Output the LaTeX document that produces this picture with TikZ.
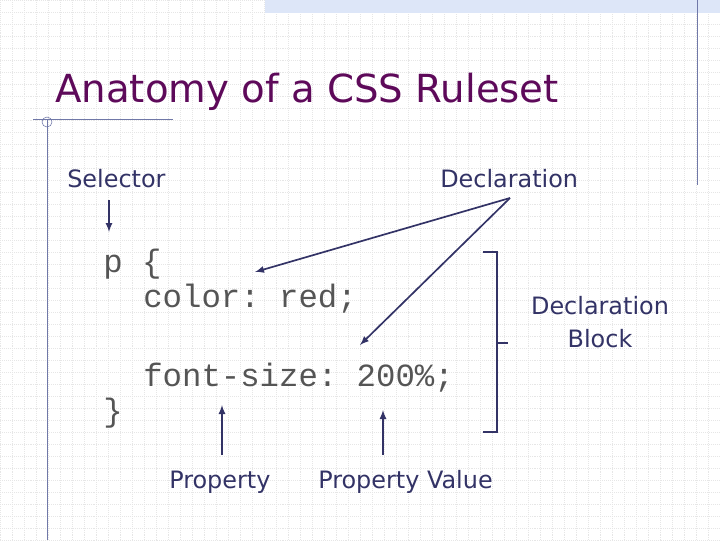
\documentclass[tikz,border=0pt]{standalone}
\usepackage{fontspec}
\setmainfont{DejaVu Sans}
\setmonofont{Liberation Mono}
\usetikzlibrary{positioning}
\definecolor{titlepurple}{HTML}{5E0A5A}
\definecolor{bodyblue}{HTML}{333366}
\definecolor{codegrey}{HTML}{555555}
\definecolor{gridgrey}{HTML}{E6E6E6}
\definecolor{bandblue}{HTML}{DDE6F8}
\definecolor{rulecol}{HTML}{7078A8}
\begin{document}
\begin{tikzpicture}
[x=0.025cm,y=-0.025cm,
 label text/.style={text=bodyblue,font=\fontsize{17}{24}\selectfont,inner sep=0pt},
 code text/.style={text=codegrey,font=\ttfamily\fontsize{23}{26}\selectfont,anchor=base west,inner sep=0pt},
 pointer/.style={draw=bodyblue,line width=1.2pt,-latex}]
\useasboundingbox (0,0) rectangle (720,540);
% background grid and slide decoration
\foreach \gx in {0,12,...,720} \draw[gridgrey,densely dotted] (\gx,0) -- (\gx,540);
\foreach \gy in {0,12,...,540} \draw[gridgrey,densely dotted] (0,\gy) -- (720,\gy);
\fill[bandblue] (265,0) rectangle (720,13);
\draw[rulecol] (697,0) -- (697,185);
\draw[rulecol] (33,119) -- (173,119);
\draw[rulecol] (47,119) -- (47,540);
\draw[rulecol] (47,122) circle (5);
% title
\node[anchor=base west,text=titlepurple,font=\fontsize{27.5}{32}\selectfont,inner sep=0pt] (title) at (55,102) {Anatomy of a CSS Ruleset};
% labels
\node[label text,anchor=base west] (sel) at (67,187) {Selector};
\node[label text,anchor=base west] (decl) at (440,187) {Declaration};
\node[label text,anchor=base west] (prop) at (169,488) {Property};
\node[label text,anchor=base west] (pval) at (318,488) {Property Value};
\node[label text,align=center] (block) at (600,322) {Declaration\\Block};
% code
\node[code text] (open) at (103,272) {p \{};
\node[code text] (color) at (143,307) {color: red;};
\node[code text] (size) at (143,386) {font-size: 200\%;};
\node[code text] (close) at (103,421) {\}};
% pointers
\coordinate (selend) at (109,232);
\coordinate (declstart) at (510,198);
\coordinate (colorend) at (255,272);
\coordinate (sizeend) at (360,345);
\coordinate (propend) at (222,405);
\coordinate (pvalend) at (383,410);
\draw[pointer] (109,200) -- (selend);
\draw[pointer] (declstart) -- (colorend);
\draw[pointer] (declstart) -- (sizeend);
\draw[pointer] (222,455) -- (propend);
\draw[pointer] (383,455) -- (pvalend);
% brace
\draw[bodyblue,line width=0.9pt] (483,252) -- (497,252) -- (497,432) -- (483,432);
\draw[bodyblue,line width=0.9pt] (497,343) -- (508,343);
\end{tikzpicture}
\end{document}
